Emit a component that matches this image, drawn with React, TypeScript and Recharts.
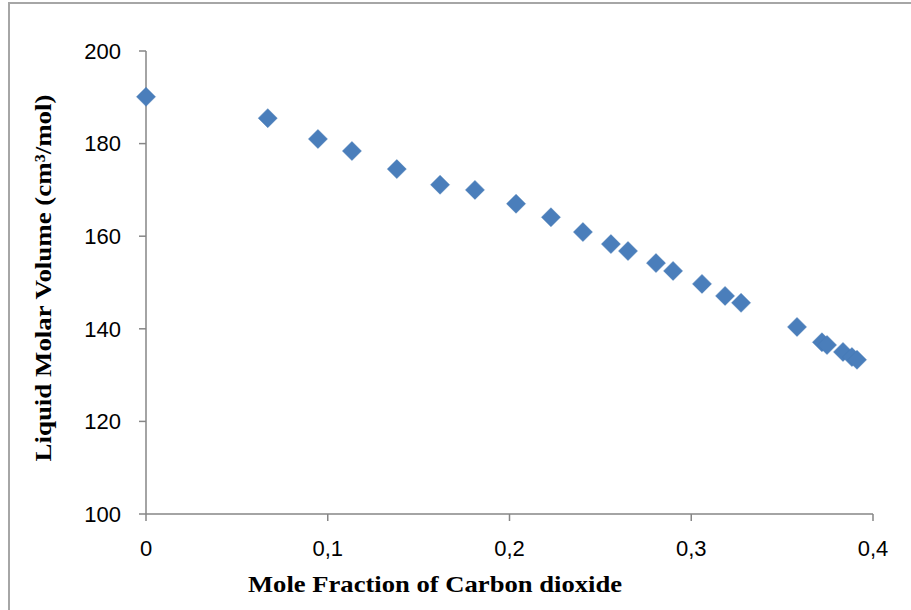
import { ScatterChart, Scatter, XAxis, YAxis } from "recharts";

const moleFraction = [
  0, 0.067, 0.0946, 0.1133, 0.138, 0.1618, 0.181, 0.2036, 0.2228, 0.2404, 0.2558, 0.2652,
  0.2806, 0.29, 0.3059, 0.3186, 0.3274, 0.3582, 0.3719, 0.3747, 0.3835, 0.3884, 0.3912,
];
const molarVolume = [
  190.1, 185.5, 181.0, 178.4, 174.5, 171.1, 170.0, 167.0, 164.1, 160.9, 158.3, 156.8,
  154.2, 152.5, 149.7, 147.1, 145.6, 140.4, 137.1, 136.5, 135.0, 133.9, 133.3,
];
const xTicks = [0, 0.1, 0.2, 0.3, 0.4];
const yTicks = [100, 120, 140, 160, 180, 200];

const points = moleFraction.map((x, i) => ({ x, y: molarVolume[i] }));

const axisColor = "#868686";
const titleFont = "'Liberation Serif', 'Times New Roman', serif";
const tickFont = "'Liberation Sans', Arial, sans-serif";

const Diamond = (props: any) => {
  const { cx, cy } = props;
  const r = 9.5;
  return (
    <polygon
      points={`${cx},${cy - r} ${cx + r},${cy} ${cx},${cy + r} ${cx - r},${cy}`}
      fill="#4a7ebb"
      stroke="#4578b3"
      strokeWidth={0.5}
    />
  );
};

const fmt = (v: number) => String(v).replace(".", ",");

export default function App() {
  return (
    <div
      style={{
        position: "absolute",
        left: 0,
        top: 0,
        width: 911,
        height: 610,
        overflow: "hidden",
        background: "#fff",
      }}
    >
      <div
        style={{
          position: "absolute",
          left: 8,
          top: 2,
          width: 1000,
          height: 700,
          borderLeft: "2px solid #a6a6a6",
          borderTop: "2px solid #a6a6a6",
        }}
      />
      <div style={{ position: "absolute", left: 0, top: 0 }}>
        <ScatterChart width={911} height={610} margin={{ top: 51, right: 38, bottom: 0, left: 0 }}>
          <XAxis
            type="number"
            dataKey="x"
            domain={[0, 0.4]}
            ticks={xTicks}
            tickFormatter={fmt}
            height={96}
            stroke={axisColor}
            strokeWidth={1.5}
            tickSize={7}
            tickMargin={19}
            tick={{ fill: "#000", fontSize: 22, fontFamily: tickFont }}
            interval={0}
          />
          <YAxis
            type="number"
            dataKey="y"
            domain={[100, 200]}
            ticks={yTicks}
            width={146}
            stroke={axisColor}
            strokeWidth={1.5}
            tickSize={7}
            tickMargin={18}
            tick={{ fill: "#000", fontSize: 22, fontFamily: tickFont }}
            interval={0}
          />
          <Scatter data={points} shape={Diamond} isAnimationActive={false} />
          <text
            x={435}
            y={592}
            textAnchor="middle"
            fontFamily={titleFont}
            fontWeight="bold"
            fontSize={23}
            textLength={374}
            lengthAdjust="spacingAndGlyphs"
          >
            Mole Fraction of Carbon dioxide
          </text>
          <text
            x={0}
            y={0}
            transform="translate(51, 278) rotate(-90)"
            textAnchor="middle"
            fontFamily={titleFont}
            fontWeight="bold"
            fontSize={23}
            textLength={367}
            lengthAdjust="spacingAndGlyphs"
          >
            Liquid Molar Volume (cm³/mol)
          </text>
        </ScatterChart>
      </div>
    </div>
  );
}
